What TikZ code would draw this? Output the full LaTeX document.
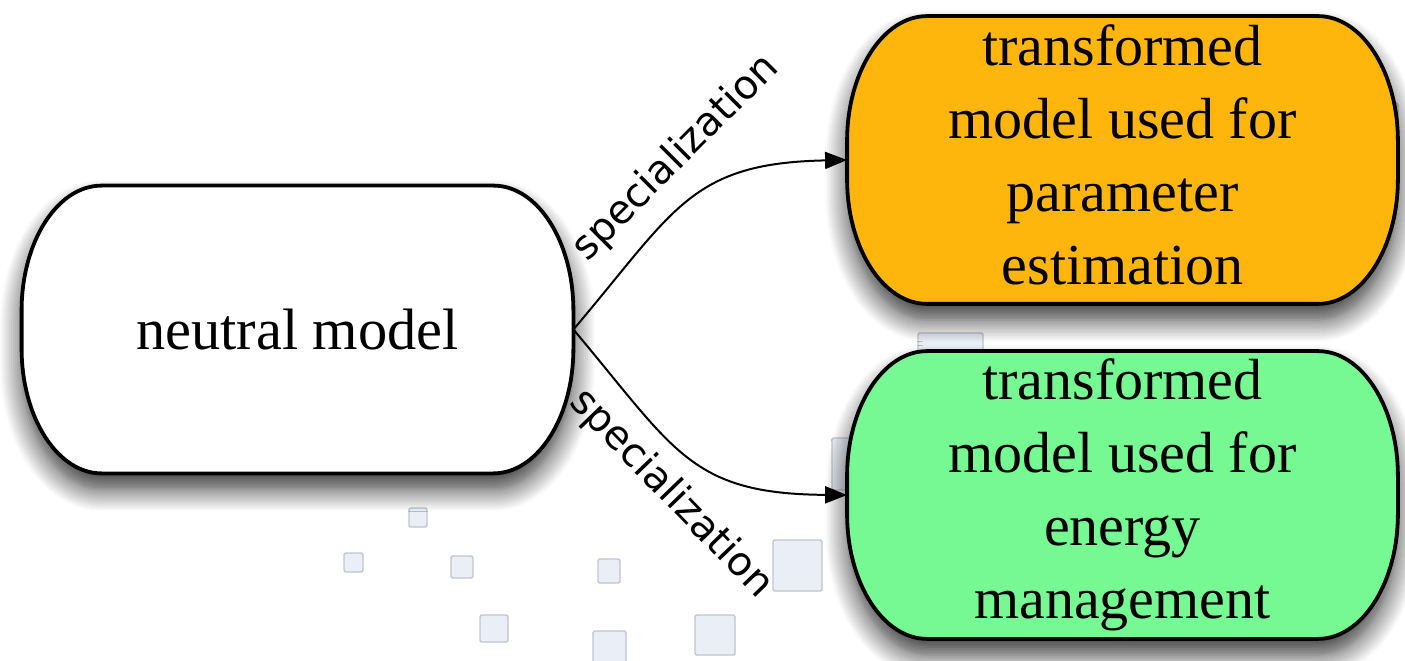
\documentclass[tikz,border=0pt]{standalone}
\usepackage{fontspec}
\setmainfont{Liberation Serif}
\newfontfamily\labelfont{DejaVu Sans}
\usetikzlibrary{arrows.meta,calc,backgrounds,shadows.blur}
\definecolor{boxorange}{RGB}{254,182,12}
\definecolor{boxgreen}{RGB}{118,248,146}
\definecolor{sqfill}{RGB}{233,238,247}
\definecolor{sqdraw}{RGB}{192,196,204}
\tikzset{
  modelbox/.style={shape=rectangle, inner sep=0pt, minimum width=275pt, minimum height=143.5pt, align=center},
  capsule/.style={draw=black, line width=1.9pt, blur shadow={shadow xshift=0pt, shadow yshift=-8pt, shadow blur radius=11pt, shadow blur steps=12, shadow opacity=80}},
  deco/.style={fill=sqfill, draw=sqdraw, line width=0.7pt, rounded corners=1pt},
  spec/.style={-{Triangle[length=11pt,width=8.5pt]}, line width=1pt},
  speclabel/.style={font=\labelfont\fontsize{20}{24}\selectfont, inner sep=0pt},
}
\newcommand\capsule[2]{%
  \draw[capsule, fill=#2]
    ($(#1.north west)+(80,0)$) -- ($(#1.north east)+(-80,0)$)
    arc[start angle=90,end angle=0,x radius=40pt,y radius=62.5pt]
    -- ($(#1.south east)+(0,125)$)
    arc[start angle=0,end angle=-90,x radius=40pt,y radius=62.5pt]
    -- ($(#1.south west)+(80,0)$)
    arc[start angle=270,end angle=180,x radius=40pt,y radius=62.5pt]
    -- ($(#1.north west)+(0,-125)$)
    arc[start angle=180,end angle=90,x radius=40pt,y radius=62.5pt]
    -- cycle;}
\begin{document}
\begin{tikzpicture}[x=0.5pt,y=0.5pt]
\useasboundingbox (0,0) rectangle (1405,660);
% nodes
\node[modelbox, minimum width=275.5pt, font=\fontsize{29.2}{35}\selectfont] (neutral) at (297.5,330.5) {neutral model};
\node[modelbox, font=\fontsize{29}{36.5}\selectfont] (param) at (1122.5,500) {transformed\\model used for\\parameter\\estimation\rule[-5pt]{0pt}{5pt}};
\node[modelbox, font=\fontsize{29}{36.5}\selectfont] (energy) at (1122.5,165) {transformed\\model used for\\energy\\management};
\begin{scope}[on background layer]
  % decorative squares
  \draw[deco] (409,133) rectangle (427,152);
  \draw[deco] (344,88) rectangle (363,107);
  \draw[deco] (451,82) rectangle (473,104);
  \draw[deco] (598,77) rectangle (620,101);
  \draw[deco] (480,18) rectangle (508,45);
  \draw[deco] (593,-6) rectangle (626,29);
  \draw[deco] (695,5) rectangle (735,45);
  \draw[deco] (773,69) rectangle (822,120);
  \draw[deco] (832,170) rectangle (884,222);
  \draw[deco] (918,262) rectangle (983,327);
  \draw[deco] (1340,495) rectangle (1398,557);
  % boxes
  \capsule{neutral}{white}
  \capsule{param}{boxorange}
  \capsule{energy}{boxgreen}
\end{scope}
% connectors
\draw[spec] (neutral.east) .. controls (675,450) and (690,497) .. (param.west);
\draw[spec] (neutral.east) .. controls (675,210) and (690,166) .. (energy.west);
% labels
\node[speclabel, rotate=45] (lab1) at (676,502) {specialization};
\node[speclabel, rotate=-46] (lab2) at (671,166) {specialization};
\end{tikzpicture}
\end{document}
